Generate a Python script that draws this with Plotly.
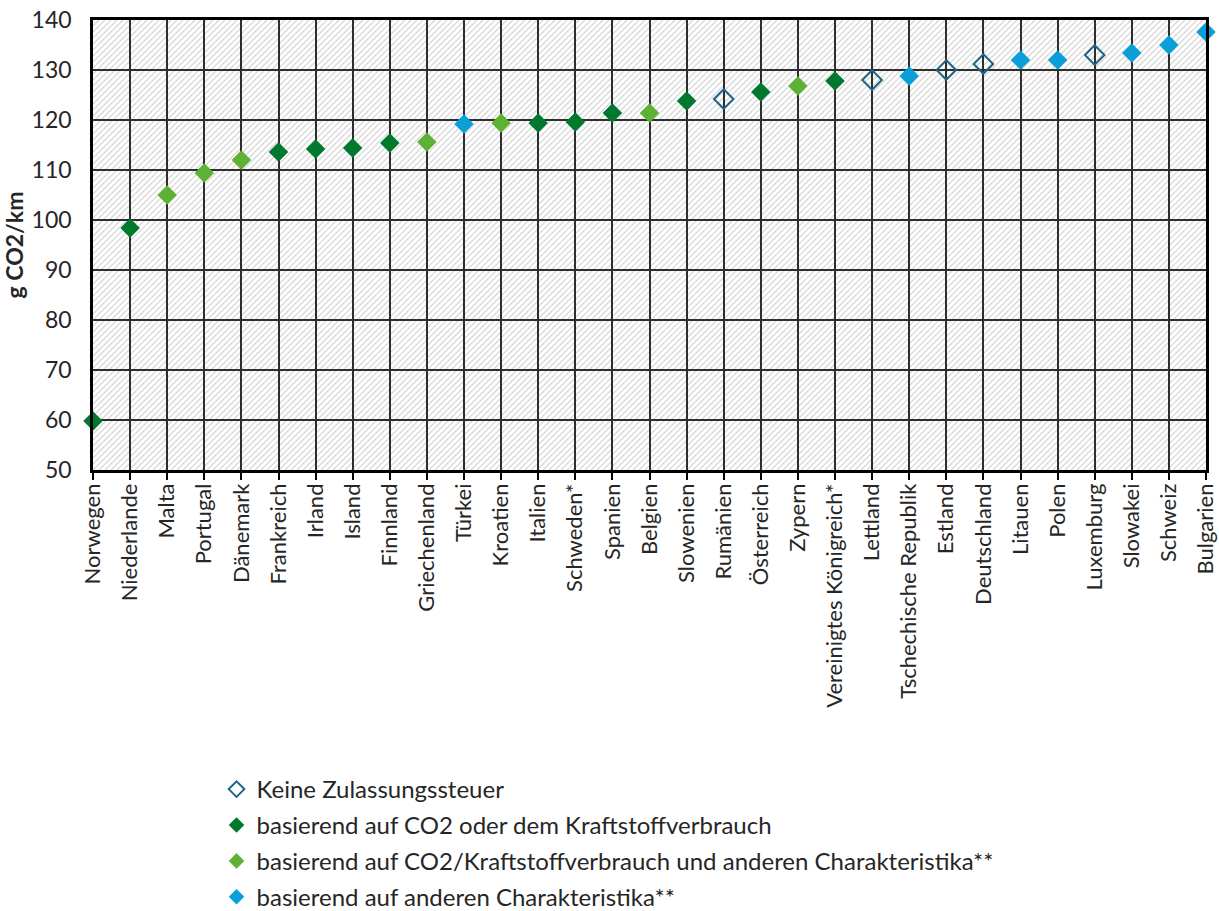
import plotly.graph_objects as go

# Average new-car CO2 emissions per country, sorted ascending
countries = [
    "Norwegen", "Niederlande", "Malta", "Portugal", "Dänemark", "Frankreich",
    "Irland", "Island", "Finnland", "Griechenland", "Türkei", "Kroatien",
    "Italien", "Schweden*", "Spanien", "Belgien", "Slowenien", "Rumänien",
    "Österreich", "Zypern", "Vereinigtes Königreich*", "Lettland",
    "Tschechische Republik", "Estland", "Deutschland", "Litauen", "Polen",
    "Luxemburg", "Slowakei", "Schweiz", "Bulgarien",
]
co2_g_per_km = [
    59.8, 98.4, 105.0, 109.4, 112.0, 113.6,
    114.2, 114.4, 115.4, 115.6, 119.2, 119.4,
    119.4, 119.6, 121.4, 121.4, 123.8, 124.2,
    125.6, 126.8, 127.8, 128.0,
    128.8, 130.0, 131.2, 132.0, 132.0,
    133.0, 133.4, 135.0, 137.6,
]
# Registration tax basis: 0 none, 1 CO2/fuel, 2 CO2/fuel + other, 3 other
tax_basis = [
    1, 1, 2, 2, 2, 1,
    1, 1, 1, 2, 3, 2,
    1, 1, 1, 2, 1, 0,
    1, 2, 1, 0,
    3, 0, 0, 3, 3,
    0, 3, 3, 3,
]
group_labels = [
    "Keine Zulassungssteuer",
    "basierend auf CO2 oder dem Kraftstoffverbrauch",
    "basierend auf CO2/Kraftstoffverbrauch und anderen Charakteristika**",
    "basierend auf anderen Charakteristika**",
]
y_ticks = [50, 60, 70, 80, 90, 100, 110, 120, 130, 140]

group_markers = [
    dict(symbol="diamond-open", size=15, color="#1f6585", line=dict(width=2, color="#1f6585")),
    dict(symbol="diamond", size=15, color="#00782d"),
    dict(symbol="diamond", size=15, color="#5db135"),
    dict(symbol="diamond", size=15, color="#0a9fd8"),
]

FONT = "Lato"
TEXT = "#262626"
WIDTH, HEIGHT = 1219, 911
MARGIN = dict(l=93, r=13, t=20, b=441, autoexpand=False)
y_min, y_max = y_ticks[0], y_ticks[-1]
x_min, x_max = 0, len(countries) - 1

# Diagonal hatch texture for the plot area, built as one SVG path in
# paper coordinates and drawn beneath the gridlines.
plot_w = WIDTH - MARGIN["l"] - MARGIN["r"]
plot_h = HEIGHT - MARGIN["t"] - MARGIN["b"]
hatch_step = 6
segments = []
c = -plot_h
while c <= plot_w:
    x0 = max(c, 0)
    x1 = min(plot_w, c + plot_h)
    if x1 > x0:
        segments.append(
            f"M{x0 / plot_w:.5f},{(x0 - c) / plot_h:.5f}"
            f"L{x1 / plot_w:.5f},{(x1 - c) / plot_h:.5f}"
        )
    c += hatch_step
hatch_path = "".join(segments)

fig = go.Figure()

for g, label in enumerate(group_labels):
    xs = [c for c, b in zip(countries, tax_basis) if b == g]
    ys = [v for v, b in zip(co2_g_per_km, tax_basis) if b == g]
    fig.add_trace(go.Scatter(
        x=xs, y=ys, mode="markers", name=label, legendgroup=f"g{g}",
        marker=group_markers[g], cliponaxis=False,
    ))

fig.add_shape(
    type="path", path=hatch_path, xref="paper", yref="paper",
    line=dict(color="#d8d8d8", width=1.3), layer="below",
)

fig.update_layout(
    width=WIDTH, height=HEIGHT,
    margin=MARGIN,
    paper_bgcolor="white", plot_bgcolor="white",
    font=dict(family=FONT, size=22, color=TEXT),
    showlegend=True,
    legend=dict(
        x=0.111, y=-0.660, xanchor="left", yanchor="top",
        font=dict(size=24, color=TEXT),
        itemsizing="constant", tracegroupgap=1.7, itemwidth=30,
        bgcolor="rgba(0,0,0,0)",
    ),
)

fig.update_xaxes(
    type="category", categoryorder="array", categoryarray=countries,
    range=[x_min, x_max], automargin=False,
    tickangle=-90, ticks="outside", ticklen=7, tickwidth=2, tickcolor="black",
    ticklabelstandoff=-5,
    showgrid=True, gridcolor="#2e2e2e", gridwidth=1.5,
    showline=True, linecolor="black", linewidth=2.5, mirror=True,
    tickfont=dict(size=22),
)
fig.update_yaxes(
    range=[y_min, y_max], tickvals=y_ticks, automargin=False,
    showgrid=True, gridcolor="#2e2e2e", gridwidth=1.5,
    showline=True, linecolor="black", linewidth=2.5, mirror=True,
    ticks="", tickfont=dict(size=23), ticklabelstandoff=14,
    title=dict(text="<b>g CO2/km</b>", font=dict(size=23), standoff=4),
    zeroline=False,
)

fig.write_html("out.html")
